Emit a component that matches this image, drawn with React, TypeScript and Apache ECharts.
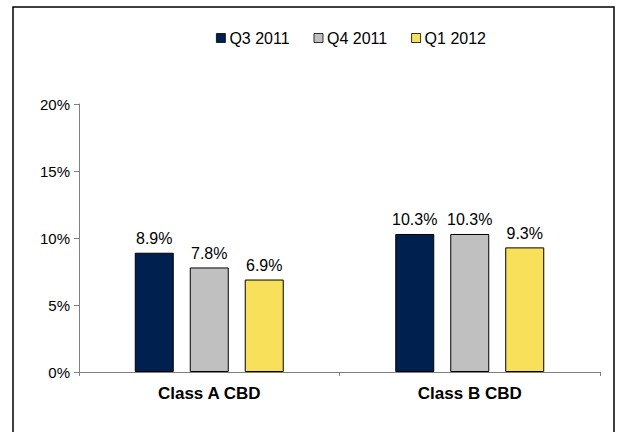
import React, { useEffect, useRef } from "react";
import * as echarts from "echarts";

const categories = ["Class A CBD", "Class B CBD"];
const seriesNames = ["Q3 2011", "Q4 2011", "Q1 2012"];
const q3_2011 = [8.9, 10.3];
const q4_2011 = [7.8, 10.3];
const q1_2012 = [6.9, 9.3];
const colors = ["#00214F", "#C0C0C0", "#F9E05A"];

export default function App() {
  const ref = useRef<HTMLDivElement>(null);
  useEffect(() => {
    if (!ref.current) return;
    const chart = echarts.init(ref.current, undefined, { renderer: "svg" });
    const data = [q3_2011, q4_2011, q1_2012];
    const font = "'Liberation Sans', Arial, sans-serif";
    chart.setOption({
      animation: false,
      textStyle: { fontFamily: font },
      graphic: [
        {
          type: "rect",
          shape: { x: 13, y: 7, width: 601, height: 440 },
          style: { fill: "none", stroke: "#000", lineWidth: 1.5 },
          silent: true,
        },
      ],
      legend: {
        top: 25,
        left: 211,
        itemWidth: 9,
        itemHeight: 9,
        itemGap: 24,
        icon: "rect",
        textStyle: { fontSize: 16, fontFamily: font, color: "#000", padding: [0, 0, 0, -1] },
        data: seriesNames.map((n, i) => ({
          name: n,
          itemStyle: { color: colors[i], borderColor: "#000", borderWidth: 0.8 },
        })),
      },
      grid: { left: 79, right: 19, top: 104, bottom: 60 },
      xAxis: {
        type: "category",
        data: categories,
        axisLine: { lineStyle: { color: "#808080", width: 1 } },
        axisTick: { show: true, length: 4, lineStyle: { color: "#808080" } },
        axisLabel: { fontSize: 17, fontWeight: "bold", fontFamily: font, color: "#000", margin: 13 },
      },
      yAxis: {
        type: "value",
        min: 0,
        max: 20,
        interval: 5,
        splitLine: { show: false },
        axisLine: { show: true, lineStyle: { color: "#808080", width: 1 } },
        axisTick: { show: true, length: 5, lineStyle: { color: "#808080" } },
        axisLabel: { fontSize: 15, fontFamily: font, color: "#000", formatter: "{value}%", margin: 9 },
      },
      series: seriesNames.map((name, i) => ({
        name,
        type: "bar",
        data: data[i],
        barWidth: 39,
        barGap: "41%",
        itemStyle: { color: colors[i], borderColor: "#000", borderWidth: 1 },
        label: {
          show: true,
          position: "top",
          distance: 6,
          fontSize: 16,
          fontFamily: font,
          color: "#000",
          formatter: (p: any) => p.value.toFixed(1) + "%",
        },
      })),
    });
    return () => chart.dispose();
  }, []);
  return (
    <div
      ref={ref}
      style={{ position: "fixed", left: 0, top: 0, width: 619, height: 432, background: "#fff" }}
    />
  );
}
